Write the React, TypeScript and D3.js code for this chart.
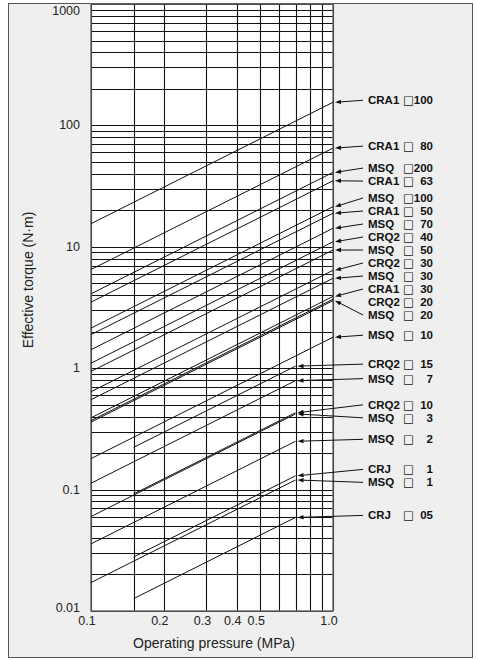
import React from "react"
import * as d3 from "d3"

// actuator models, one entry per line
const models = ["CRA1", "CRA1", "MSQ", "CRA1", "MSQ", "CRA1", "MSQ", "CRQ2", "MSQ", "CRQ2", "MSQ", "CRA1", "CRQ2", "MSQ", "MSQ", "CRQ2", "MSQ", "CRQ2", "MSQ", "MSQ", "CRJ", "MSQ", "CRJ"]
const sizes = ["100", "80", "200", "63", "100", "50", "70", "40", "50", "30", "30", "30", "20", "20", "10", "15", "7", "10", "3", "2", "1", "1", "05"]
// effective torque (N·m) at the max operating pressure
const torqueAtMax = [155, 65, 41, 35, 21.4, 18.9, 14.2, 11.0, 9.4, 6.4, 5.5, 3.9, 3.7, 3.6, 1.8, 1.04, 0.79, 0.43, 0.42, 0.25, 0.13, 0.12, 0.059]
const minPressure = [0.1, 0.1, 0.1, 0.1, 0.1, 0.1, 0.1, 0.1, 0.1, 0.1, 0.1, 0.1, 0.1, 0.1, 0.1, 0.15, 0.1, 0.15, 0.1, 0.1, 0.15, 0.1, 0.15]
const maxPressure = [1, 1, 1, 1, 1, 1, 1, 1, 1, 1, 1, 1, 1, 1, 1, 0.7, 0.7, 0.7, 0.7, 0.7, 0.7, 0.7, 0.7]
const hasArrow = [true, true, true, true, true, true, true, true, true, true, true, true, false, true, true, true, true, true, true, true, true, true, true]

const xTicks = [0.1, 0.2, 0.3, 0.4, 0.5, 1.0]
const xTickLabels = ["0.1", "0.2", "0.3", "0.4", "0.5", "1.0"]
const xGrid = [0.1, 0.15, 0.2, 0.3, 0.4, 0.5, 0.6, 0.7, 0.8, 0.9, 1.0]
const yTicks = [1000, 100, 10, 1, 0.1, 0.01]
const yTickLabels = ["1000", "100", "10", "1", "0.1", "0.01"]

const W = 477
const H = 660
const font = "'Liberation Sans', Arial, Helvetica, sans-serif"

// spread labels so they don't overlap (cluster averaging)
function dodge(desired: number[], gap: number): number[] {
  const order = d3.range(desired.length).sort((a, b) => desired[a] - desired[b])
  let clusters = order.map(i => ({ idx: [i], mean: desired[i] }))
  let merged = true
  while (merged) {
    merged = false
    for (let c = 0; c < clusters.length - 1; c++) {
      const a = clusters[c], b = clusters[c + 1]
      const aEnd = a.mean + (a.idx.length - 1) * gap / 2
      const bStart = b.mean - (b.idx.length - 1) * gap / 2
      if (bStart - aEnd < gap) {
        const idx = a.idx.concat(b.idx)
        clusters.splice(c, 2, { idx, mean: d3.mean(idx, i => desired[i]) as number })
        merged = true
        break
      }
    }
  }
  const out: number[] = new Array(desired.length)
  clusters.forEach(c => c.idx.forEach((i, k) => { out[i] = c.mean + (k - (c.idx.length - 1) / 2) * gap }))
  return out
}

export default function App() {
  const x = d3.scaleLog().domain([0.1, 1]).range([91, 333])
  const y = d3.scaleLog().domain([0.01, 1000]).range([611, 4])

  const yGrid: number[] = []
  for (let k = -2; k <= 2; k++) for (let m = 1; m <= 9; m++) yGrid.push(m * Math.pow(10, k))
  yGrid.push(1000)

  const line = d3.line<number[]>().x(d => x(d[0])).y(d => y(d[1]))

  const tipX = maxPressure.map(p => x(p) + 2)
  const tipY = torqueAtMax.map(v => y(v))
  const labelY = dodge(tipY.map(t => t - 2), 13)

  return (
    <svg width={W} height={H} style={{ position: "absolute", left: 0, top: 0 }} fontFamily={font}>
      <rect x={8.5} y={3.5} width={464} height={654} fill="#eeefee" stroke="#555" />
      <rect x={91} y={4} width={242} height={607} fill="#fff" />

      <g stroke="#111" strokeWidth={1.1}>
        {yGrid.map((v, i) => (
          <line key={"h" + i} x1={91} x2={333} y1={Math.round(y(v)) + 0.5} y2={Math.round(y(v)) + 0.5} />
        ))}
        {xGrid.map((v, i) => (
          <line key={"v" + i} x1={Math.round(x(v)) + 0.5} x2={Math.round(x(v)) + 0.5} y1={4} y2={611} />
        ))}
      </g>
      <rect x={91} y={4} width={242} height={607} fill="none" stroke="#666" strokeWidth={1.4} />

      {/* torque lines */}
      <g fill="none" stroke="#111" strokeWidth={1}>
        {torqueAtMax.map((v, i) => {
          const k = v / maxPressure[i]
          return <path key={i} d={line([[minPressure[i], k * minPressure[i]], [maxPressure[i], v]]) as string} />
        })}
      </g>

      {/* labels with arrows */}
      {models.map((m, i) => (
        <g key={"l" + i}>
          {hasArrow[i] && (
            <>
              <line x1={363} y1={labelY[i]} x2={tipX[i] + 4} y2={tipY[i] + (labelY[i] - tipY[i]) * 4 / (363 - tipX[i])} stroke="#111" strokeWidth={1} />
              <path
                d={(() => {
                  const ang = Math.atan2(labelY[i] - tipY[i], 363 - tipX[i])
                  const len = 6, hw = 2.2
                  const bx = tipX[i] + Math.cos(ang) * len, by = tipY[i] + Math.sin(ang) * len
                  const px = -Math.sin(ang) * hw, py = Math.cos(ang) * hw
                  return `M${tipX[i]},${tipY[i]}L${bx + px},${by + py}L${bx - px},${by - py}Z`
                })()}
                fill="#111"
              />
            </>
          )}
          <text y={labelY[i]} dominantBaseline="central" fontSize={11.5} fontWeight="bold" fill="#111">
            <tspan x={368}>{m}</tspan>
            <tspan x={403} fontWeight="normal" fontFamily="'DejaVu Sans', sans-serif">□</tspan>
            <tspan x={433} textAnchor="end">{sizes[i]}</tspan>
          </text>
        </g>
      ))}

      {/* y tick labels */}
      {yTicks.map((v, i) => (
        <text key={"yt" + i} x={80} y={Math.min(Math.max(y(v), 11), 608)} dominantBaseline="central" textAnchor="end" fontSize={12.5} fill="#222">
          {yTickLabels[i]}
        </text>
      ))}
      {/* x tick labels */}
      {xTicks.map((v, i) => (
        <text key={"xt" + i} x={x(v) - 4} y={625} textAnchor="middle" fontSize={12.5} fill="#222">
          {xTickLabels[i]}
        </text>
      ))}

      <text x={214} y={648} textAnchor="middle" fontSize={14} fill="#222">Operating pressure (MPa)</text>
      <text transform="translate(33,280) rotate(-90)" textAnchor="middle" fontSize={14} fill="#222">Effective torque (N·m)</text>
    </svg>
  )
}
